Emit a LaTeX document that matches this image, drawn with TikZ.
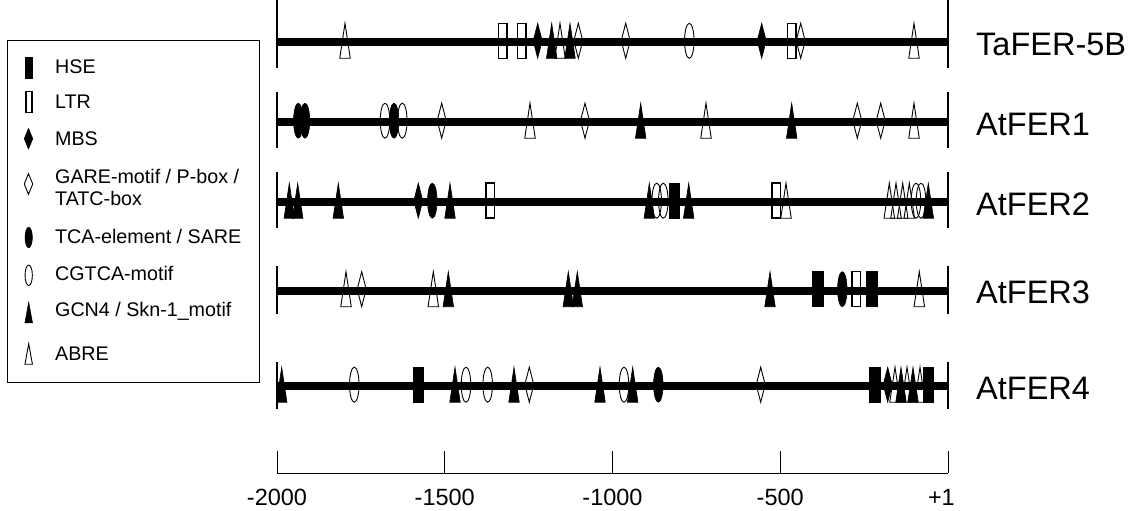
\documentclass[tikz,border=0pt]{standalone}
\usepackage{fontspec}
\setmainfont{Liberation Sans}
\begin{document}
\begin{tikzpicture}[x=1pt,y=-1pt,
  trackline/.style={line width=8pt},
  endtick/.style={line width=1.2pt},
  fillsym/.style={fill=black,draw=black,line width=0.6pt},
  opensym/.style={draw=black,line width=0.9pt},
  genelbl/.style={font=\fontsize{32.5}{38}\selectfont,anchor=west,inner sep=0pt},
  axlbl/.style={font=\fontsize{23.5}{28}\selectfont,inner sep=0pt},
  leglbl/.style={font=\fontsize{19.7}{21.6}\selectfont,anchor=west,inner sep=0pt,align=left},
]
\def\sh{35}\def\rw{10.5}\def\lw{8.5}\def\dw{9}\def\ew{9.5}\def\tw{10.5}
\tikzset{
  hse/.pic={\path[fillsym] (-\rw/2,-\sh/2) rectangle (\rw/2,\sh/2);},
  ltr/.pic={\path[opensym,line width=1.5pt] (-\lw/2,-\sh/2) rectangle (\lw/2,\sh/2);},
  mbs/.pic={\path[fillsym] (0,-\sh/2) -- (\dw/2,0) -- (0,\sh/2) -- (-\dw/2,0) -- cycle;},
  gare/.pic={\path[opensym] (0,-\sh/2) -- (\dw/2,0) -- (0,\sh/2) -- (-\dw/2,0) -- cycle;},
  tca/.pic={\path[fillsym] (0,0) ellipse [x radius=\ew/2, y radius=\sh/2];},
  cgtca/.pic={\path[opensym] (0,0) ellipse [x radius=\ew/2, y radius=\sh/2];},
  gcn/.pic={\path[fillsym] (-\tw/2,\sh/2) -- (0,-\sh/2) -- (\tw/2,\sh/2) -- cycle;},
  abre/.pic={\path[opensym] (-\tw/2,\sh/2) -- (0,-\sh/2) -- (\tw/2,\sh/2) -- cycle;},
}
\useasboundingbox (0,0) rectangle (1128,511);

% tracks
\foreach \n/\yy/\ya/\yb/\name in {1/42/0/68/TaFER-5B, 2/122/92/148/AtFER1, 3/202/172/228/AtFER2, 4/290.5/266/314/AtFER3, 5/386/362/409/AtFER4} {
  \coordinate (tl\n) at (277,\yy);
  \coordinate (tr\n) at (948,\yy);
  \draw[trackline] (tl\n) -- (tr\n);
  \draw[endtick] (277,\ya) -- (277,\yb);
  \draw[endtick] (948,\ya) -- (948,\yb);
  \node[genelbl] (gene\n) at (976,\yy+2) {\name};
}

% track 1
\foreach \t/\x in {abre/345, ltr/502.7, ltr/521.7, mbs/537.7, gcn/551.7, abre/560, gcn/570, gare/578.3,
  gare/625.7, cgtca/689.3, mbs/761.7, ltr/791.7, gare/800.7, abre/914}
  \pic at (\x,40.8) {\t};
% track 2
\foreach \t/\x in {tca/298.3, tca/305, cgtca/385, tca/394, cgtca/402.3, gare/441.7, abre/530, gare/585,
  gcn/640.7, abre/706, gcn/791.7, gare/857.3, gare/880.7, abre/914}
  \pic at (\x,120.7) {\t};
% track 3
\foreach \t/\x in {gcn/289.3, gcn/297.7, gcn/338.3, mbs/418.3, tca/432.3, gcn/450, ltr/490,
  gcn/649.3, cgtca/656.7, cgtca/663.3, hse/674.3, gcn/688.7, ltr/776, abre/786,
  abre/889.3, abre/896, abre/902.7, abre/909.3, cgtca/916, cgtca/921, gcn/928.3}
  \pic at (\x,200.7) {\t};
% track 4
\foreach \t/\x in {abre/346, gare/361.7, abre/433.3, gcn/448.3, gcn/568.3, gcn/577.3,
  gcn/770, hse/817.8, tca/842.3, ltr/856, hse/872, abre/919.3}
  \pic at (\x,289.2) {\t};
% track 5
\foreach \t/\x in {gcn/281.7, cgtca/354.3, hse/418.3, gcn/455, cgtca/466, cgtca/487.7, gcn/514, gare/529.3, gcn/600,
  cgtca/624, gcn/632.7, tca/658.3, gare/760.7, hse/874.7, mbs/887.7, abre/895, gcn/901, abre/907, gcn/913, abre/920, hse/928.3}
  \pic at (\x,384.7) {\t};

% axis
\coordinate (ax0) at (277,473);
\coordinate (ax4) at (948,473);
\draw[line width=1pt] (ax0) -- (ax4);
\foreach \x/\lab/\k in {277/-2000/a, 444.75/-1500/b, 612.5/-1000/c, 780.25/-500/d} {
  \draw[line width=1pt] (\x,451) -- (\x,473);
  \node[axlbl] (axl\k) at (\x,497) {\lab};
}
\draw[line width=1pt] (948,451) -- (948,473);
\node[axlbl,anchor=east] (axle) at (955,497) {+1};

% legend
\node[draw,line width=0.9pt,anchor=north west,minimum width=252pt,minimum height=341.5pt,inner sep=0pt] (legbox) at (6.5,40) {};
\begin{scope}
\def\sh{20.5}\def\rw{7.3}\def\lw{6}\def\dw{8.5}\def\ew{7.3}\def\tw{7.5}
\pic at (28.7,67.7) {hse};
\pic at (29.2,102) {ltr};
\pic at (28.5,138.7) {mbs};
\pic at (28.5,184) {gare};
\pic at (28.7,237.5) {tca};
\pic at (28.7,275.3) {cgtca};
\pic at (28.7,312.5) {gcn};
\pic at (28.7,354) {abre};
\end{scope}
\node[leglbl] (lhse) at (55,66.7) {HSE};
\node[leglbl] (lltr) at (55,101.7) {LTR};
\node[leglbl] (lmbs) at (55,138.3) {MBS};
\node[leglbl] (lgare) at (55,187.5) {GARE-motif / P-box /\\TATC-box};
\node[leglbl] (ltca) at (55,236.7) {TCA-element / SARE};
\node[leglbl] (lcgtca) at (55,273.3) {CGTCA-motif};
\node[leglbl] (lgcn) at (55,311.7) {GCN4 / Skn-1\_motif};
\node[leglbl] (labre) at (55,353.3) {ABRE};
\end{tikzpicture}
\end{document}
